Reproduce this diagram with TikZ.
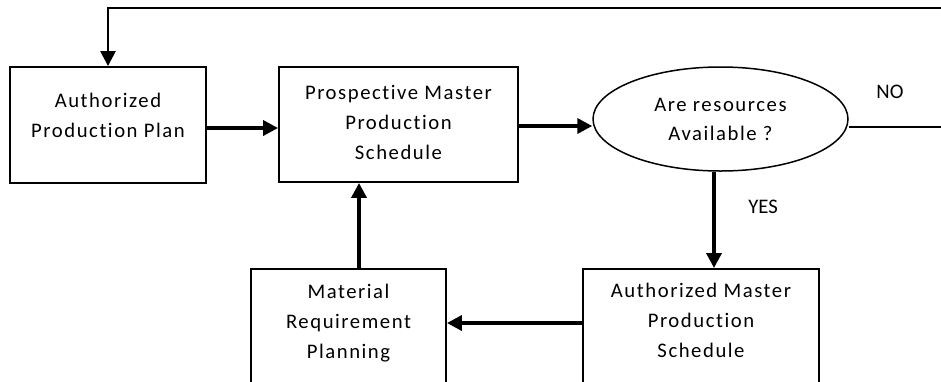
\documentclass[tikz,border=0pt]{standalone}
\usepackage{fontspec}
\setmainfont{Carlito}[LetterSpace=7.5, Ligatures=NoCommon]
\newfontfamily\tagfont{Carlito}
\usetikzlibrary{arrows.meta,shapes.geometric}

\begin{document}
\begin{tikzpicture}[x=1pt,y=-1pt,
  boxframe/.style={draw, line width=1.9pt, inner sep=0pt},
  boxtext/.style={align=center, inner sep=0pt, anchor=north,
    font=\fontsize{20.7}{30}\selectfont},
  decision/.style={ellipse, draw, line width=1.5pt, inner sep=0pt,
    align=center, font=\fontsize{20.7}{29}\selectfont},
  tag/.style={inner sep=0pt, font=\tagfont\fontsize{20.7}{26}\selectfont},
  flow/.style={line width=3.5pt, -{Triangle[length=15pt,width=15pt]}},
]
\useasboundingbox (0,0) rectangle (941,381);
\clip (0,0) rectangle (941,381);

% upper row
\node[boxframe, minimum width=196pt, minimum height=116pt] (app) at (108,125) {};
\node[boxtext, yshift=-27pt] (apptext) at (app.north) {Authorized\\Production Plan};

\node[boxframe, minimum width=239pt, minimum height=115pt] (pmps) at (398.5,124.5) {};
\node[boxtext, yshift=-19pt] (pmpstext) at (pmps.north) {Prospective Master\\Production\\Schedule};

\node[decision, minimum width=255pt, minimum height=104pt] (ask) at (720.5,119) {Are resources\\Available ?};

% lower row (frames run past the lower edge)
\node[boxframe, minimum width=195pt, minimum height=140pt, anchor=north] (mrp) at (348.5,268) {};
\node[boxtext, yshift=-15.5pt] (mrptext) at (mrp.north) {Material\\Requirement\\Planning};

\node[boxframe, minimum width=236pt, minimum height=140pt, anchor=north] (amps) at (701,268) {};
\node[boxtext, yshift=-14.5pt] (ampstext) at (amps.north) {Authorized Master\\Production\\Schedule};

% branch labels
\node[tag] (yes) at (763,207) {YES};
\node[tag] (no) at (890,92) {NO};

% connectors
\draw[flow] (app.east |- 0,128) -- (pmps.west |- 0,128);
\draw[flow] (pmps.east |- 0,126) -- (ask.west |- 0,126);
\draw[flow] (714,0 |- ask.south) -- (714,0 |- amps.north);
\draw[flow] (amps.west |- 0,323) -- (mrp.east |- 0,323);
\draw[flow] (359,0 |- mrp.north) -- (359,0 |- pmps.south);

% NO branch loops back to the production plan
\coordinate (noend) at (941,127);
\coordinate (loopend) at (941,8);
\draw[line width=1.4pt] (ask.east |- noend) -- (noend);
\draw[line width=2.6pt, -{Triangle[length=15pt,width=15pt]}] (loopend) -| (app.north);
\end{tikzpicture}
\end{document}
